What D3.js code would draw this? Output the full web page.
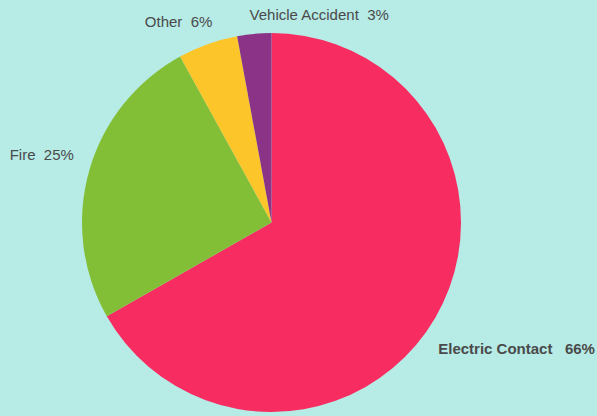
<!DOCTYPE html>
<html>
<head>
<meta charset="utf-8">
<script src="https://cdn.jsdelivr.net/npm/d3@7"></script>
<style>
  html, body { margin: 0; padding: 0; background: #B6EBE6; }
  svg { display: block; }
  text { font-family: "Liberation Sans", Arial, sans-serif; font-size: 15px; fill: #4a4a4a; white-space: pre; }
</style>
</head>
<body>
<svg id="chart" width="597" height="416"></svg>
<script>
// ---- data ----
const categories = ["Electric Contact", "Fire", "Other", "Vehicle Accident"];
const values = [66.7, 25.2, 5.1, 2.9];
const percentLabels = ["66%", "25%", "6%", "3%"];
const colors = ["#F72D62", "#82BF36", "#FCC52A", "#8B3387"];

// ---- layout ----
const W = 597, H = 416;
const cx = 271.5, cy = 222.5, R = 189.5;
const labelRadius = 209;
const labelSpacing = ["   ", "  ", "  ", "  "];
const labelAngleNudge = [6.9, 3.2, 3.2, -0.8]; // degrees
const labelAnchor = ["start", "end", "end", "start"];
const labelWeight = ["bold", "normal", "normal", "normal"];

const svg = d3.select("#chart");
svg.append("rect").attr("width", W).attr("height", H).attr("fill", "#B6EBE6");

const data = categories.map((c, i) => ({ name: c, value: values[i], i }));
const pie = d3.pie().sort(null).value(d => d.value).startAngle(0).endAngle(2 * Math.PI);
const arcs = pie(data);
const arc = d3.arc().innerRadius(0).outerRadius(R);

const g = svg.append("g").attr("transform", `translate(${cx},${cy})`);
g.selectAll("path.slice")
  .data(arcs)
  .join("path")
  .attr("class", "slice")
  .attr("d", arc)
  .attr("fill", d => colors[d.data.i]);

g.selectAll("text.lbl")
  .data(arcs)
  .join("text")
  .attr("class", "lbl")
  .each(function(d) {
    const i = d.data.i;
    const a = (d.startAngle + d.endAngle) / 2 + labelAngleNudge[i] * Math.PI / 180;
    const x = labelRadius * Math.sin(a);
    const y = -labelRadius * Math.cos(a);
    d3.select(this)
      .attr("x", x)
      .attr("y", y)
      .attr("dy", "0.36em")
      .attr("text-anchor", labelAnchor[i])
      .attr("font-weight", labelWeight[i])
      .text(d.data.name + labelSpacing[i] + percentLabels[i]);
  });
</script>
</body>
</html>
